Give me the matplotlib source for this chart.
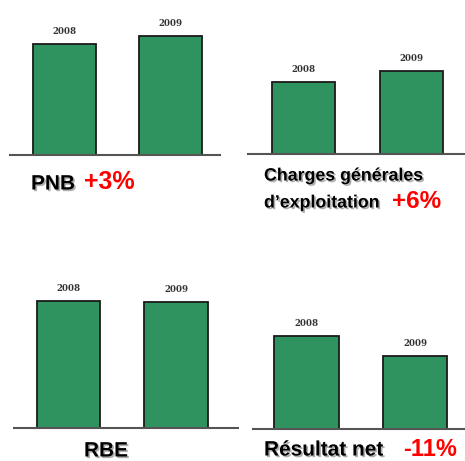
import matplotlib
matplotlib.use('Agg')
import matplotlib.pyplot as plt
import matplotlib.patheffects as pe

# 数据
years = ['2008', '2009']
pnb = [111, 119]
charges = [72, 83]
rbe = [127, 126]
resultat = [93, 73]

W, H = 465, 461
fig = plt.figure(figsize=(W / 100, H / 100), dpi=100)
fig.patch.set_facecolor('white')

green = '#2f935f'
shadow = [pe.withSimplePatchShadow(offset=(1.2, -1.2), shadow_rgbFace='#9a9a9a', alpha=0.8)]


def panel(vals, line_l, line_r, c0, step, base, top):
    # 按像素位置放坐标轴
    ax = fig.add_axes([line_l / W, 1 - base / H, (line_r - line_l) / W, (base - top) / H])
    x = range(len(vals))
    ax.bar(x, vals, width=0.59, color=green, edgecolor='#1a1a1a', linewidth=1.3, zorder=2)
    ax.set_xlim(-(c0 - line_l) / step, (line_r - c0) / step)
    ax.set_ylim(0, base - top)
    for i, v in zip(x, vals):
        ax.annotate(years[i], (i, v), xytext=(0, 9), textcoords='offset points',
                    ha='center', va='center', fontsize=6.2, fontweight='bold',
                    family='DejaVu Serif', color='#333333')
    for s in ['top', 'right', 'left']:
        ax.spines[s].set_visible(False)
    ax.spines['bottom'].set_color('#555555')
    ax.spines['bottom'].set_linewidth(1.5)
    ax.set_xticks([])
    ax.set_yticks([])
    ax.patch.set_alpha(0)
    return ax


panel(pnb, 10, 220, 64.5, 106, 155, 5)
panel(charges, 248, 465, 303.5, 108, 154, 45)
panel(rbe, 14, 238, 68.5, 107.5, 428, 275)
panel(resultat, 253, 465, 306.5, 108.5, 429, 310)


def txt(x, y, s, size, color='black', fx=None):
    t = fig.text(x / W, 1 - y / H, s, fontsize=size, fontweight='bold', color=color,
                 family='Liberation Sans', va='center', ha='left')
    if fx:
        t.set_path_effects(fx)
    return t


# 标题
txt(31, 184, 'PNB', 15, fx=shadow)
txt(84, 182, '+3%', 18, color='#ff0000')
txt(264, 176, 'Charges générales', 12.8, fx=shadow)
txt(264, 203, 'd\u2019exploitation', 12.8, fx=shadow)
txt(392, 201, '+6%', 17.5, color='#ff0000')
fig.text(106 / W, 1 - 451 / H, 'RBE', fontsize=15, fontweight='bold', family='Liberation Sans',
         ha='center', va='center', path_effects=shadow)
txt(264, 450, 'Résultat net', 15, fx=shadow)
txt(403, 449, '-11%', 17, color='#ff0000')

fig.savefig('out.png', dpi=100)
